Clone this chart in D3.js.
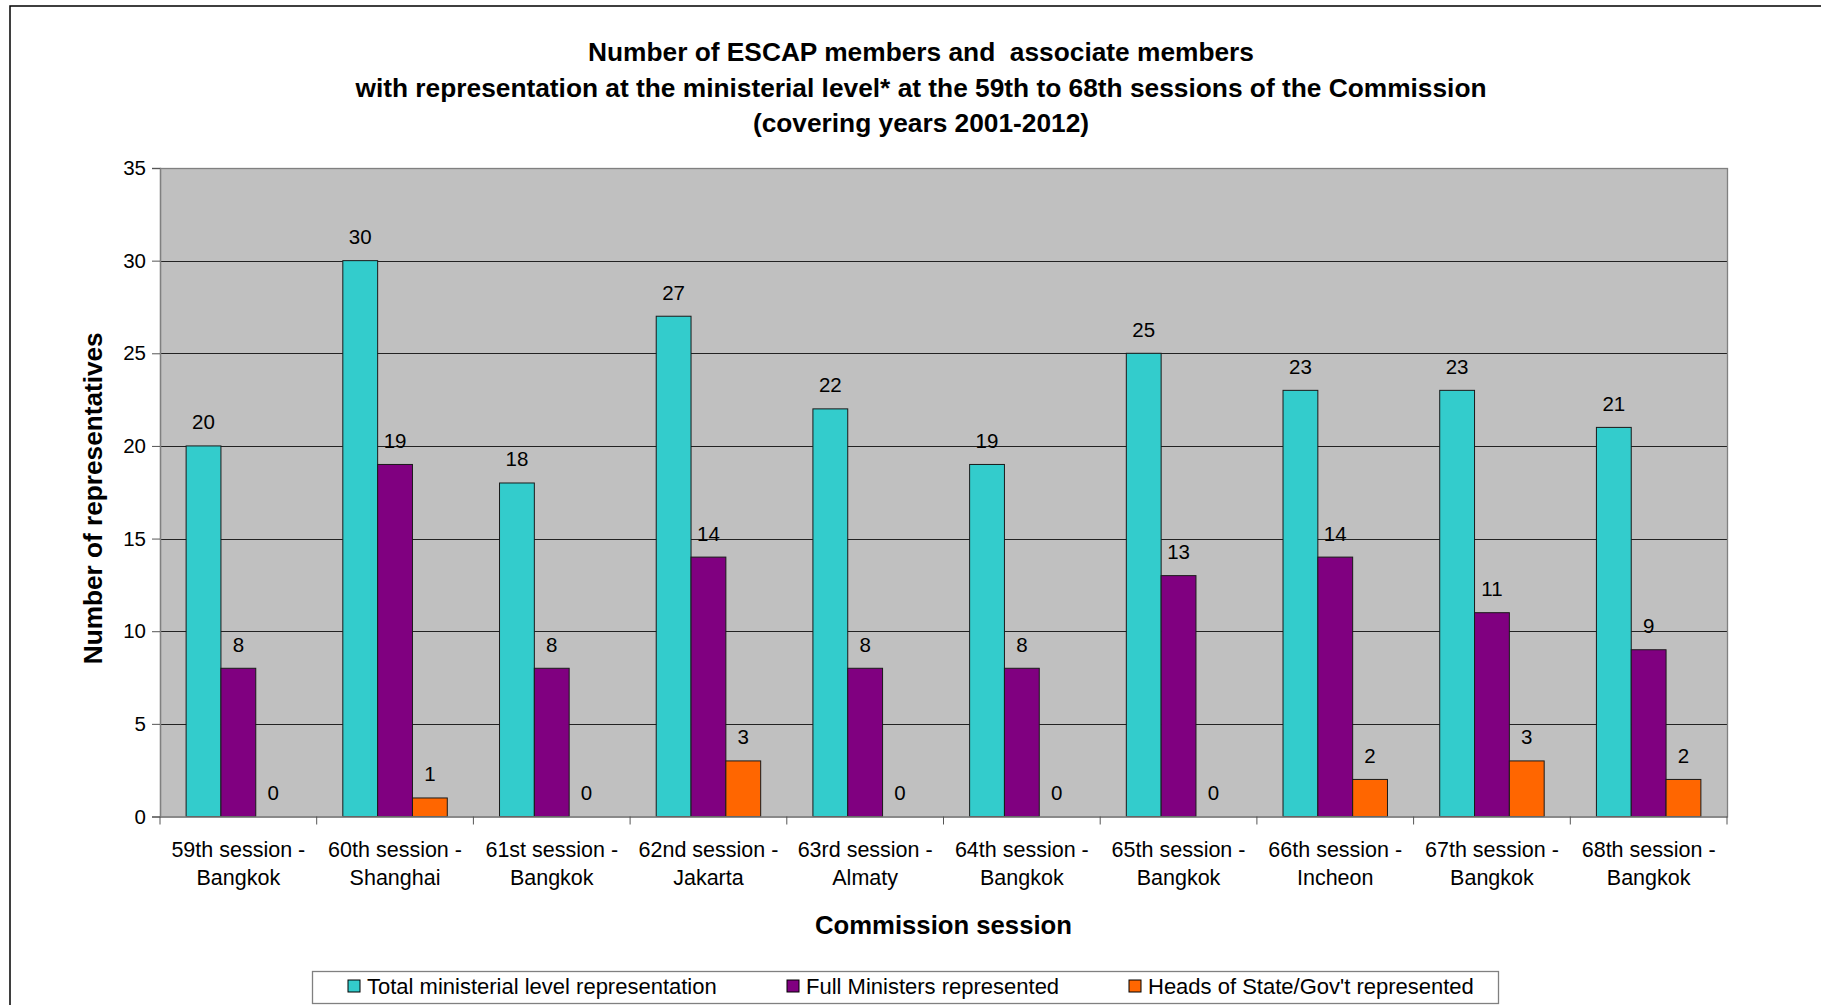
<!DOCTYPE html>
<html>
<head>
<meta charset="utf-8">
<script src="https://cdn.jsdelivr.net/npm/d3@7"></script>
<style>
  html, body { margin: 0; padding: 0; background: #fff; }
  svg { display: block; font-family: "Liberation Sans", Arial, sans-serif; }
</style>
</head>
<body>
<script>
// data
const sessions = [
  ['59th session -', 'Bangkok'],
  ['60th session -', 'Shanghai'],
  ['61st session -', 'Bangkok'],
  ['62nd session -', 'Jakarta'],
  ['63rd session -', 'Almaty'],
  ['64th session -', 'Bangkok'],
  ['65th session -', 'Bangkok'],
  ['66th session -', 'Incheon'],
  ['67th session -', 'Bangkok'],
  ['68th session -', 'Bangkok']
];
const totalMinisterial = [20, 30, 18, 27, 22, 19, 25, 23, 23, 21];
const fullMinisters = [8, 19, 8, 14, 8, 8, 13, 14, 11, 9];
const headsOfState = [0, 1, 0, 3, 0, 0, 0, 2, 3, 2];
const seriesNames = ['Total ministerial level representation', 'Full Ministers represented', "Heads of State/Gov't represented"];
const seriesColors = ['#33CCCC', '#800080', '#FF6600'];
const yTicks = [0, 5, 10, 15, 20, 25, 30, 35];
const titleLines = [
  'Number of ESCAP members and  associate members',
  'with representation at the ministerial level* at the 59th to 68th sessions of the Commission',
  '(covering years 2001-2012)'
];

const W = 1821, H = 1005;
const plot = { left: 160, right: 1727, top: 168, bottom: 816.5 };

const svg = d3.select('body').append('svg')
  .attr('width', W)
  .attr('height', H);

// outer frame (top and left edges visible, rest cropped)
svg.append('rect')
  .attr('x', 10).attr('y', 6)
  .attr('width', W + 20).attr('height', H + 20)
  .attr('fill', '#fff')
  .attr('stroke', '#000')
  .attr('stroke-width', 1.5);

// title
svg.append('g').selectAll('text')
  .data(titleLines)
  .enter().append('text')
  .attr('x', 921)
  .attr('y', (d, i) => 61 + i * 35.5)
  .attr('text-anchor', 'middle')
  .attr('font-weight', 'bold')
  .attr('font-size', 26.3)
  .attr('fill', '#000')
  .style('white-space', 'pre')
  .text(d => d);

const x0 = d3.scaleBand()
  .domain(d3.range(sessions.length))
  .range([plot.left, plot.right])
  .paddingInner(0)
  .paddingOuter(0);

// three bars take 2/3 of a category, gap of 1.5 bar widths
const x1 = d3.scaleBand()
  .domain([0, 1, 2])
  .range([0, x0.bandwidth()])
  .paddingInner(0)
  .paddingOuter(0.75);

const y = d3.scaleLinear()
  .domain([0, 35])
  .range([plot.bottom, plot.top]);

// plot background
svg.append('rect')
  .attr('x', plot.left).attr('y', plot.top)
  .attr('width', plot.right - plot.left)
  .attr('height', plot.bottom - plot.top)
  .attr('fill', '#C0C0C0');

// gridlines
svg.append('g').selectAll('line')
  .data(yTicks.filter(t => t > 0 && t < 35))
  .enter().append('line')
  .attr('x1', plot.left).attr('x2', plot.right)
  .attr('y1', d => Math.round(y(d)) + 0.5)
  .attr('y2', d => Math.round(y(d)) + 0.5)
  .attr('stroke', '#222')
  .attr('stroke-width', 1);

// plot border
svg.append('rect')
  .attr('x', plot.left + 0.5).attr('y', plot.top + 0.5)
  .attr('width', plot.right - plot.left)
  .attr('height', plot.bottom - plot.top)
  .attr('fill', 'none')
  .attr('stroke', '#808080')
  .attr('stroke-width', 1.3);

const series = [totalMinisterial, fullMinisters, headsOfState];
const rows = [];
series.forEach((vals, s) => vals.forEach((v, i) => rows.push({ s, i, v })));

const bars = svg.append('g');
bars.selectAll('rect')
  .data(rows.filter(d => d.v > 0))
  .enter().append('rect')
  .attr('x', d => x0(d.i) + x1(d.s))
  .attr('y', d => y(d.v))
  .attr('width', x1.bandwidth())
  .attr('height', d => y(0) - y(d.v))
  .attr('fill', d => seriesColors[d.s])
  .attr('stroke', '#1a1a1a')
  .attr('stroke-width', 1);

// value labels
bars.selectAll('text')
  .data(rows)
  .enter().append('text')
  .attr('x', d => x0(d.i) + x1(d.s) + x1.bandwidth() / 2)
  .attr('y', d => y(d.v) - 16.5)
  .attr('text-anchor', 'middle')
  .attr('font-size', 20.5)
  .attr('fill', '#000')
  .text(d => d.v);

// y axis
const yAxis = svg.append('g')
  .attr('transform', `translate(${plot.left},0)`)
  .call(d3.axisLeft(y).tickValues(yTicks).tickSize(8).tickPadding(6));
yAxis.select('.domain').attr('stroke', '#808080').attr('stroke-width', 1.3);
yAxis.selectAll('.tick line').attr('stroke', '#555');
yAxis.selectAll('.tick text')
  .attr('font-size', 20.5)
  .attr('font-family', '"Liberation Sans", Arial, sans-serif')
  .attr('fill', '#000');

// x axis: ticks at category boundaries
const xBounds = d3.range(sessions.length + 1).map(i => plot.left + i * x0.step());
const xAxisG = svg.append('g');
xAxisG.append('line')
  .attr('x1', plot.left).attr('x2', plot.right)
  .attr('y1', plot.bottom + 0.5).attr('y2', plot.bottom + 0.5)
  .attr('stroke', '#808080').attr('stroke-width', 1.3);
xAxisG.selectAll('line.tk')
  .data(xBounds)
  .enter().append('line')
  .attr('class', 'tk')
  .attr('x1', d => d).attr('x2', d => d)
  .attr('y1', plot.bottom).attr('y2', plot.bottom + 8)
  .attr('stroke', '#555');

const xLabels = xAxisG.selectAll('text.cat')
  .data(sessions)
  .enter().append('text')
  .attr('class', 'cat')
  .attr('text-anchor', 'middle')
  .attr('font-size', 21.5)
  .attr('fill', '#000');
xLabels.each(function (d, i) {
  const t = d3.select(this);
  const cx = x0(i) + x0.bandwidth() / 2;
  t.append('tspan').attr('x', cx).attr('y', 857).text(d[0]);
  t.append('tspan').attr('x', cx).attr('y', 885).text(d[1]);
});

// axis titles
svg.append('text')
  .attr('x', (plot.left + plot.right) / 2)
  .attr('y', 934)
  .attr('text-anchor', 'middle')
  .attr('font-weight', 'bold')
  .attr('font-size', 25.7)
  .text('Commission session');

svg.append('text')
  .attr('transform', `translate(102,${(plot.top + plot.bottom) / 2 + 6}) rotate(-90)`)
  .attr('text-anchor', 'middle')
  .attr('font-weight', 'bold')
  .attr('font-size', 26.2)
  .text('Number of representatives');

// legend
const legend = svg.append('g');
legend.append('rect')
  .attr('x', 312.5).attr('y', 971.5)
  .attr('width', 1186).attr('height', 32)
  .attr('fill', '#fff')
  .attr('stroke', '#808080')
  .attr('stroke-width', 1.3);
const legendX = [348, 787, 1129];
const items = legend.selectAll('g.item')
  .data(seriesNames)
  .enter().append('g')
  .attr('class', 'item')
  .attr('transform', (d, i) => `translate(${legendX[i]},980)`);
items.append('rect')
  .attr('width', 12).attr('height', 12)
  .attr('fill', (d, i) => seriesColors[i])
  .attr('stroke', '#000');
items.append('text')
  .attr('x', 19).attr('y', 13.5)
  .attr('font-size', 22)
  .attr('fill', '#000')
  .text(d => d);
</script>
</body>
</html>
